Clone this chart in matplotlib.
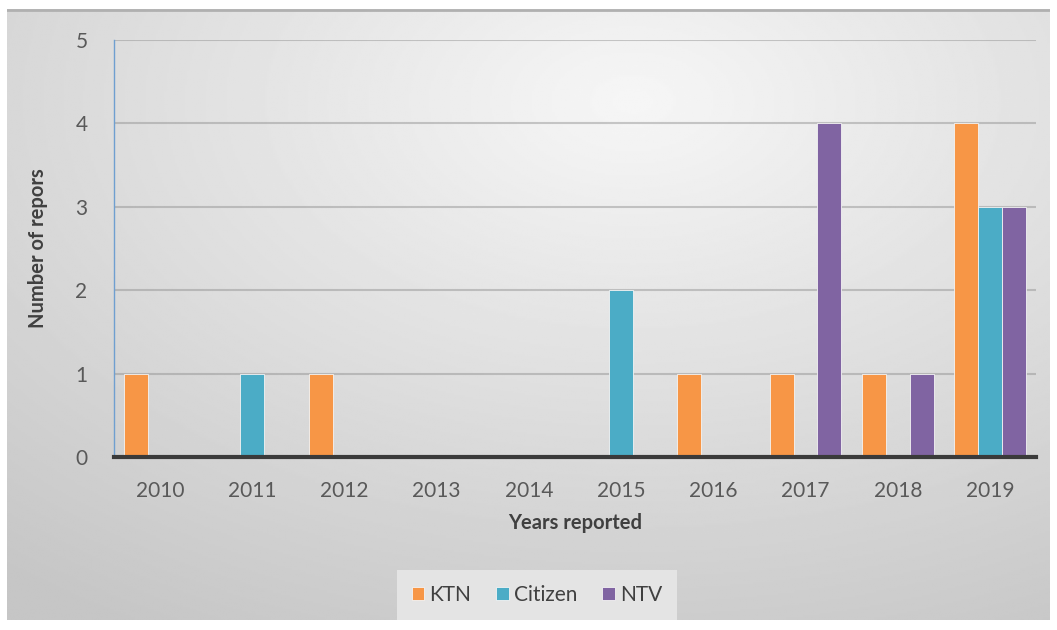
import numpy as np
import matplotlib.pyplot as plt

years = ['2010', '2011', '2012', '2013', '2014', '2015', '2016', '2017', '2018', '2019']
ktn = [1, 0, 1, 0, 0, 0, 1, 1, 1, 4]
citizen = [0, 1, 0, 0, 0, 2, 0, 0, 0, 3]
ntv = [0, 0, 0, 0, 0, 0, 0, 4, 1, 3]

series = [('KTN', ktn, '#F79646'), ('Citizen', citizen, '#4BACC6'), ('NTV', ntv, '#8064A2')]

plt.rcParams['font.family'] = ['Lato', 'DejaVu Sans']

fig = plt.figure(figsize=(10.57, 6.30), dpi=100)
fig.patch.set_facecolor('white')

# gradient background of the chart area
bg = fig.add_axes([7 / 1057, 1 - 620 / 630, 1043 / 1057, 611 / 630])
bg.set_axis_off()
yy, xx = np.mgrid[0:1:300j, 0:1:500j]
r = np.sqrt(((xx - 0.6) / 0.95) ** 2 + ((yy - 0.15) / 1.0) ** 2)
shade = 0.965 - 0.19 * np.clip(r, 0, 1)
bg.imshow(shade, cmap='gray', vmin=0, vmax=1, aspect='auto', extent=[0, 1, 1, 0])
bg.set_xlim(0, 1)
bg.set_ylim(1, 0)
bg.plot([0, 1], [0.002, 0.002], color='#b0b0b0', lw=2)

ax = fig.add_axes([114 / 1057, 1 - 457 / 630, 922 / 1057, 417 / 630])
ax.patch.set_alpha(0)

x = np.arange(len(years))
w = 0.26
for i, (name, vals, col) in enumerate(series):
    ax.bar(x + (i - 1) * w, vals, w, color=col, label=name, zorder=3,
           edgecolor='#f4f4f4', linewidth=0.6)

ax.set_xlim(-0.5, len(years) - 0.5)
ax.set_ylim(0, 5)
ax.set_yticks(range(6))
ax.set_xticks(x)
ax.set_xticklabels(years)
ax.grid(axis='y', color='#8c8c8c', alpha=0.45, lw=1.5, zorder=0)
ax.tick_params(length=0, labelsize=15, colors='#595959')
ax.tick_params(axis='x', pad=17)
ax.tick_params(axis='y', pad=19)

for s in ['top', 'right']:
    ax.spines[s].set_visible(False)
ax.spines['left'].set_color('#6f9fd0')
ax.spines['left'].set_linewidth(1)
ax.spines['bottom'].set_color('#3a3a3a')
ax.spines['bottom'].set_linewidth(3)
ax.spines['bottom'].set_zorder(4)

ax.set_xlabel('Years reported', fontsize=14.5, fontweight='bold', color='#404040', labelpad=9)
ax.set_ylabel('Number of repors', fontsize=14.5, fontweight='bold', color='#404040', labelpad=20)

leg = fig.legend(loc='center', bbox_to_anchor=(537 / 1057, 1 - 595 / 630), ncol=3,
                 fontsize=15, frameon=True, handlelength=0.6, handleheight=0.6,
                 handletextpad=0.25, columnspacing=1.2, borderpad=0.7)
leg.get_frame().set_facecolor('#e4e4e4')
leg.get_frame().set_edgecolor('none')
leg.get_frame().set_alpha(1)
leg.get_frame().set_boxstyle('square', pad=0.0)
for t in leg.get_texts():
    t.set_color('#404040')

fig.savefig('out.png', dpi=100)
